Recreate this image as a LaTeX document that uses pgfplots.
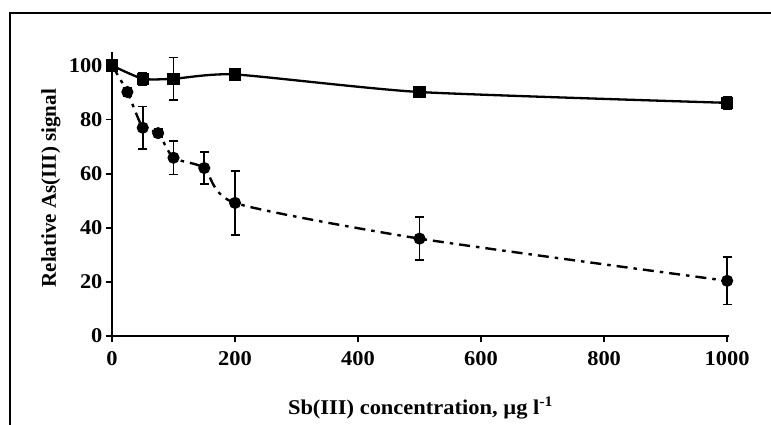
\documentclass[border=0pt]{standalone}
\usepackage{fontspec}
\setmainfont{Liberation Serif}
\newfontfamily\hfont{Liberation Serif}[FakeStretch=1.07]
\usepackage{pgfplots}
\pgfplotsset{compat=1.18}
\begin{document}
\begin{tikzpicture}
\begin{axis}[
 at={(0,0)}, anchor=south west, scale only axis,
 width=617bp, height=284bp,
 xmin=0, xmax=1003, ymin=0, ymax=105,
 axis x line=bottom, axis y line=left,
 axis line style={-, line width=2.2bp, black},
 xtick={0,200,...,1000}, ytick={0,20,...,100},
 tick align=outside, major tick length=6bp,
 tick style={line width=1.6bp, black},
 /pgf/number format/assume math mode=true,
 /pgf/number format/1000 sep={},
 ticklabel style={font=\hfont\fontsize{21bp}{25bp}\selectfont\bfseries},
 xticklabel style={yshift=-6bp},
 xlabel={Sb(III) concentration, µg l\textsuperscript{-1}},
 ylabel={Relative As(III) signal},
 every axis x label/.style={at={(axis description cs:0.5,0)},anchor=base,yshift=-78bp,font=\hfont\fontsize{21bp}{25bp}\selectfont\bfseries},
 every axis y label/.style={at={(axis description cs:0,0.52)},xshift=-56bp,rotate=90,anchor=base,font=\fontsize{21bp}{25bp}\selectfont\bfseries},
 clip=false,
]
\addplot[black, line width=2.3bp, smooth, tension=0.35, mark=square*, mark size=5bp,
  error bars/.cd, y dir=both, y explicit,
  error bar style={line width=1.6bp, solid},
  error mark options={rotate=90, mark size=4.5bp, line width=1.6bp, solid}]
 coordinates { (0,100) +- (0,1) (50,95.1) +- (0,2.3) (100,95.1) +- (0,7.9)
   (200,96.7) +- (0,1.5) (500,90.2) +- (0,1.5) (1000,86.2) +- (0,2.3) };
\addplot[black, line width=2.4bp, smooth, tension=0.4, dash pattern=on 11bp off 6bp on 3.5bp off 6bp,
  mark=*, mark size=4.8bp, mark options={solid},
  error bars/.cd, y dir=both, y explicit,
  error bar style={line width=1.6bp, solid},
  error mark options={rotate=90, mark size=4.5bp, line width=1.6bp, solid}]
 coordinates { (0,100) +- (0,0) (25,90.2) +- (0,1.5) (50,77.0) +- (0,7.8)
   (75,75.0) +- (0,1.5) (100,65.9) +- (0,6.2) (150,62.1) +- (0,6.0)
   (200,49.2) +- (0,11.9) (500,36.0) +- (0,7.9) (1000,20.4) +- (0,8.8) };
\end{axis}
\pgfresetboundingbox
\useasboundingbox (-112bp,-89bp) rectangle (659bp,336bp);
\draw[line width=2.5bp] (-102bp,-95bp) -- (-102bp,323bp) -- (665bp,323bp);
\end{tikzpicture}
\end{document}
